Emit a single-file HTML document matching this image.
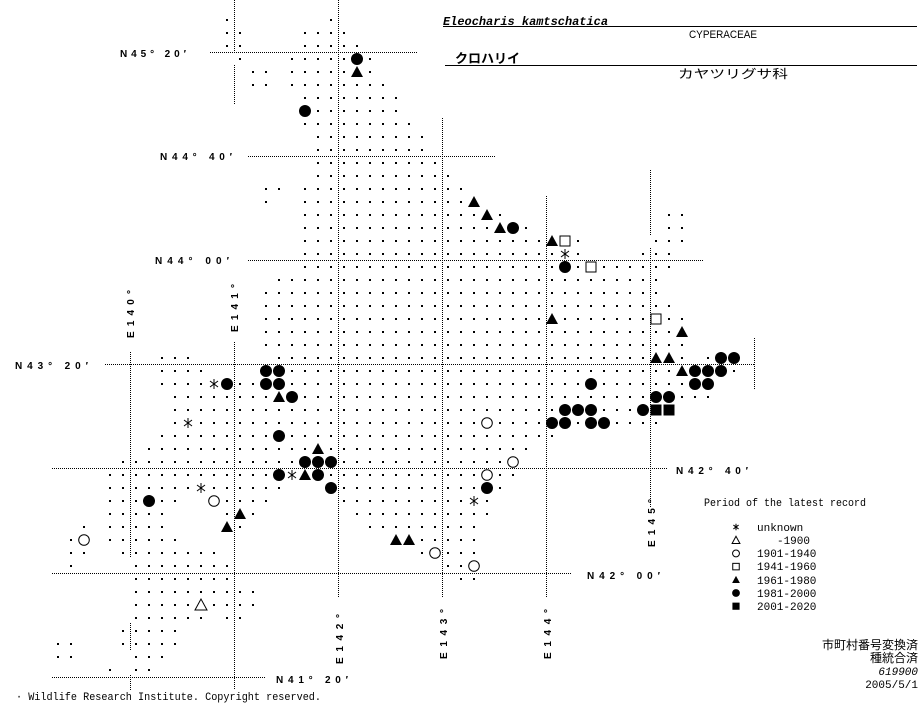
<!DOCTYPE html>
<html><head><meta charset="utf-8">
<style>
html,body{margin:0;padding:0;background:#fff;}
svg{display:block;}
.lab{font-family:"Liberation Sans",sans-serif;font-weight:bold;font-size:10px;fill:#000;}
.mono{font-family:"Liberation Mono",monospace;font-size:11px;fill:#000;}
.jp{font-family:"Liberation Sans","Noto Sans CJK JP",sans-serif;font-size:12px;fill:#000;}
</style></head>
<body>
<svg id="s" width="923" height="703" viewBox="0 0 923 703" xmlns="http://www.w3.org/2000/svg">
<g id="lines" stroke="#000" stroke-width="1" stroke-dasharray="1,1" fill="none"></g>
<g id="dots"></g>
<g id="marks"></g>
<!-- latitude labels -->
<text class="lab" x="120" y="57" textLength="66" lengthAdjust="spacing">N45° 20′</text>
<text class="lab" x="160" y="160" textLength="72" lengthAdjust="spacing">N44° 40′</text>
<text class="lab" x="155" y="264" textLength="74" lengthAdjust="spacing">N44° 00′</text>
<text class="lab" x="15" y="369" textLength="73" lengthAdjust="spacing">N43° 20′</text>
<text class="lab" x="676" y="474" textLength="72" lengthAdjust="spacing">N42° 40′</text>
<text class="lab" x="587" y="579" textLength="73" lengthAdjust="spacing">N42° 00′</text>
<text class="lab" x="276" y="683" textLength="72" lengthAdjust="spacing">N41° 20′</text>
<!-- longitude labels -->
<text class="lab" transform="translate(134,338) rotate(-90)" textLength="48" lengthAdjust="spacing">E140°</text>
<text class="lab" transform="translate(238,332) rotate(-90)" textLength="48" lengthAdjust="spacing">E141°</text>
<text class="lab" transform="translate(343,664) rotate(-90)" textLength="50" lengthAdjust="spacing">E142°</text>
<text class="lab" transform="translate(447,659) rotate(-90)" textLength="50" lengthAdjust="spacing">E143°</text>
<text class="lab" transform="translate(551,659) rotate(-90)" textLength="50" lengthAdjust="spacing">E144°</text>
<text class="lab" transform="translate(655,547) rotate(-90)" textLength="48" lengthAdjust="spacing">E145°</text>
<!-- title -->
<text x="443" y="25" style="font-family:'Liberation Mono',monospace;font-weight:bold;font-style:italic;font-size:12px" textLength="165" lengthAdjust="spacingAndGlyphs">Eleocharis kamtschatica</text>
<line x1="443" y1="26.5" x2="917" y2="26.5" stroke="#000" stroke-width="1"/>
<text x="689" y="38" style="font-family:'Liberation Sans',sans-serif;font-size:11px" textLength="68" lengthAdjust="spacingAndGlyphs">CYPERACEAE</text>
<text x="455" y="63" style="font-family:'Liberation Sans','Noto Sans CJK JP',sans-serif;font-weight:bold;font-size:13px" textLength="65" lengthAdjust="spacingAndGlyphs">クロハリイ</text>
<line x1="445" y1="65.5" x2="917" y2="65.5" stroke="#000" stroke-width="1"/>
<text class="jp" x="678" y="78" textLength="110" lengthAdjust="spacingAndGlyphs">カヤツリグサ科</text>
<!-- legend -->
<text class="mono" x="704" y="506" textLength="162" lengthAdjust="spacingAndGlyphs">Period of the latest record</text>
<g id="leg"></g>
<text class="mono" x="757" y="531">unknown</text>
<text class="mono" x="810" y="544" text-anchor="end">-1900</text>
<text class="mono" x="757" y="557">1901-1940</text>
<text class="mono" x="757" y="570">1941-1960</text>
<text class="mono" x="757" y="584">1961-1980</text>
<text class="mono" x="757" y="597">1981-2000</text>
<text class="mono" x="757" y="610">2001-2020</text>
<text class="jp" x="918" y="649" text-anchor="end">市町村番号変換済</text>
<text class="jp" x="918" y="662" text-anchor="end">種統合済</text>
<text class="mono" x="918" y="675" text-anchor="end" font-style="italic">619900</text>
<text class="mono" x="918" y="688" text-anchor="end">2005/5/1</text>
<text class="mono" x="16" y="700" textLength="305" lengthAdjust="spacingAndGlyphs">· Wildlife Research Institute. Copyright reserved.</text>
</svg>
<script>
(function(){
var NS="http://www.w3.org/2000/svg";
function X(c){return 6+13*c;} function Y(r){return 20+13*r;}
var rows={0:[[17,17],[25,25]],1:[[17,18],[23,26]],2:[[17,18],[23,27]],3:[[18,18],[22,28]],4:[[19,20],[22,28]],5:[[19,20],[22,29]],6:[[23,30]],7:[[23,30]],8:[[23,31]],9:[[24,32]],10:[[24,32]],11:[[24,33]],12:[[24,34]],13:[[20,21],[23,35]],14:[[20,20],[23,36]],15:[[23,38],[51,52]],16:[[23,40],[51,52]],17:[[23,44],[50,52]],18:[[23,44],[49,51]],19:[[23,51]],20:[[21,50]],21:[[20,50]],22:[[20,51]],23:[[20,52]],24:[[20,52]],25:[[20,52]],26:[[12,14],[21,52],[54,56]],27:[[12,15],[20,56]],28:[[12,54]],29:[[13,54]],30:[[13,51]],31:[[13,50]],32:[[12,42]],33:[[11,40]],34:[[9,39]],35:[[8,39]],36:[[8,21],[25,38]],37:[[8,13],[16,20],[26,37]],38:[[8,12],[17,19],[27,37]],39:[[6,6],[8,12],[17,18],[28,36]],40:[[5,6],[8,13],[30,36]],41:[[5,6],[9,16],[32,36]],42:[[5,5],[10,17],[34,36]],43:[[10,17],[35,36]],44:[[10,19]],45:[[10,19]],46:[[10,15],[17,18]],47:[[9,13]],48:[[4,5],[9,13]],49:[[4,5],[10,12]],50:[[8,8],[10,11]]};
// markers: type c=filled circle,o=open circle,t=filled tri,v=open tri,q=open square,s=filled square,a=asterisk
var M=[[3,27,'c'],[4,27,'t'],[7,23,'c'],[14,36,'t'],[15,37,'t'],[16,38,'t'],[16,39,'c'],[17,42,'t'],[17,43,'q'],[18,43,'a'],[19,43,'c'],[19,45,'q'],[23,42,'t'],[23,50,'q'],[24,52,'t'],[26,50,'t'],[26,51,'t'],[26,55,'c'],[26,56,'c'],[27,20,'c'],[27,21,'c'],[27,52,'t'],[27,53,'c'],[27,54,'c'],[27,55,'c'],[28,16,'a'],[28,17,'c'],[28,20,'c'],[28,21,'c'],[28,45,'c'],[28,53,'c'],[28,54,'c'],[29,21,'t'],[29,22,'c'],[29,50,'c'],[29,51,'c'],[30,43,'c'],[30,44,'c'],[30,45,'c'],[30,49,'c'],[30,50,'s'],[30,51,'s'],[31,14,'a'],[31,37,'o'],[31,42,'c'],[31,43,'c'],[31,45,'c'],[31,46,'c'],[32,21,'c'],[33,24,'t'],[34,23,'c'],[34,24,'c'],[34,25,'c'],[34,39,'o'],[35,21,'c'],[35,22,'a'],[35,23,'t'],[35,24,'c'],[35,37,'o'],[36,15,'a'],[36,25,'c'],[36,37,'c'],[37,11,'c'],[37,16,'o'],[37,36,'a'],[38,18,'t'],[39,17,'t'],[40,6,'o'],[40,30,'t'],[40,31,'t'],[41,33,'o'],[42,36,'o'],[45,15,'v']];
var mk={};M.forEach(function(m){mk[m[0]+','+m[1]]=m[2];});
var d='',m='';
function marker(t,x,y,sc){sc=sc||1;var r=6*sc;
 if(t=='c')return '<circle cx="'+x+'" cy="'+y+'" r="'+r+'" fill="#000"/>';
 if(t=='o')return '<circle cx="'+x+'" cy="'+y+'" r="'+(5.3*sc)+'" fill="#fff" stroke="#000" stroke-width="1"/>';
 if(t=='t')return '<polygon points="'+x+','+(y-r)+' '+(x-r)+','+(y+5*sc)+' '+(x+r)+','+(y+5*sc)+'" fill="#000"/>';
 if(t=='v')return '<polygon points="'+x+','+(y-r)+' '+(x-r)+','+(y+5*sc)+' '+(x+r)+','+(y+5*sc)+'" fill="#fff" stroke="#000" stroke-width="1"/>';
 if(t=='s')return '<rect x="'+(x-5.5*sc)+'" y="'+(y-5.5*sc)+'" width="'+(11*sc)+'" height="'+(11*sc)+'" fill="#000"/>';
 if(t=='q')return '<rect x="'+(x-5*sc)+'" y="'+(y-5*sc)+'" width="'+(10*sc)+'" height="'+(10*sc)+'" fill="#fff" stroke="#000" stroke-width="1"/>';
 if(t=='a'){var a=5*sc,b=4*sc,c=3*sc;return '<g stroke="#000" stroke-width="1"><line x1="'+x+'" y1="'+(y-a)+'" x2="'+x+'" y2="'+(y+a)+'"/><line x1="'+(x-b)+'" y1="'+(y-c)+'" x2="'+(x+b)+'" y2="'+(y+c)+'"/><line x1="'+(x-b)+'" y1="'+(y+c)+'" x2="'+(x+b)+'" y2="'+(y-c)+'"/></g>';}
 return '';}
for(var r in rows){rows[r].forEach(function(g){for(var c=g[0];c<=g[1];c++){var k=r+','+c;if(mk[k])continue;d+='<rect x="'+(X(c)-1)+'" y="'+(Y(+r)-1)+'" width="2" height="2" fill="#000"/>';}});}
M.forEach(function(q){m+=marker(q[2],X(q[1]),Y(q[0]));});
document.getElementById('dots').innerHTML=d;
document.getElementById('marks').innerHTML=m;
var L='';
function h(y,x1,x2){L+='<line x1="'+x1+'" y1="'+(y+.5)+'" x2="'+x2+'" y2="'+(y+.5)+'"/>';}
function v(x,y1,y2){L+='<line x1="'+(x+.5)+'" y1="'+y1+'" x2="'+(x+.5)+'" y2="'+y2+'"/>';}
h(52,210,417);h(156,248,495);h(260,248,703);h(364,105,755);h(468,52,668);h(573,52,572);h(677,52,265);
v(234,0,52);v(234,65,105);v(234,342,690);
v(130,352,558);v(130,623,650);v(130,675,690);
v(338,0,598);v(442,118,598);v(546,196,598);
v(650,170,235);v(650,248,508);v(754,338,390);
document.getElementById('lines').innerHTML=L;
var lg='',ty=['a','v','o','q','t','c','s'];
ty.forEach(function(t,i){lg+=marker(t,736,527+13.2*i,0.65);});
document.getElementById('leg').innerHTML=lg;
})();
</script>
</body></html>
